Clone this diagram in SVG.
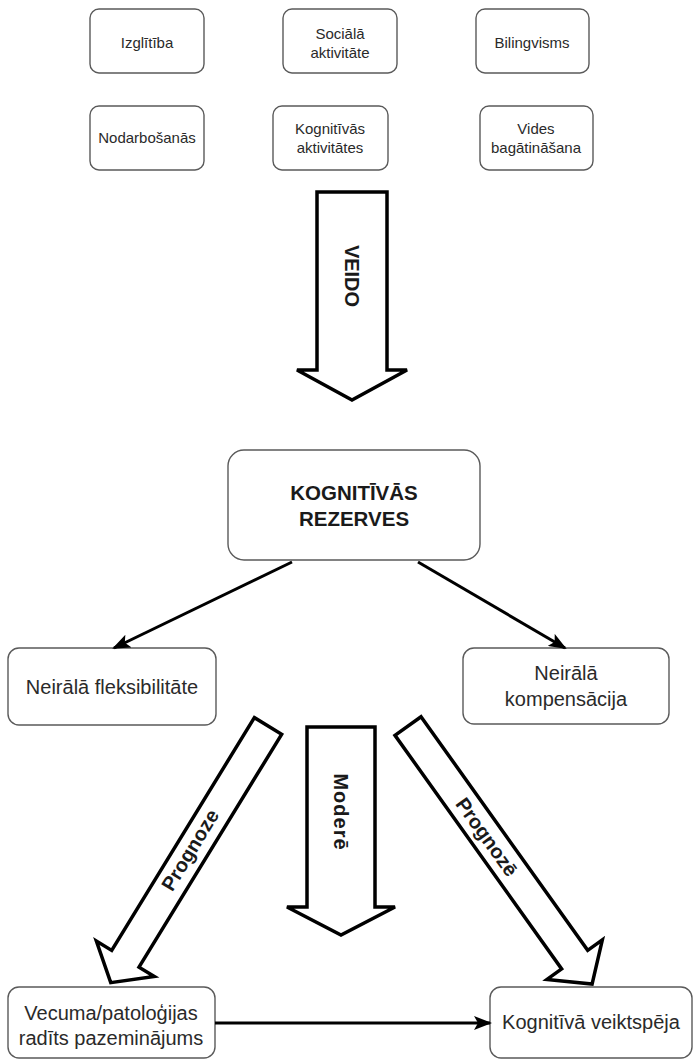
<svg xmlns="http://www.w3.org/2000/svg" width="693" height="1060" viewBox="0 0 693 1060">
<style>
.box{fill:#fff;stroke:#5a5a5a;stroke-width:1.4}
.t{font-family:"Liberation Sans",Arial,sans-serif;fill:#2a2a2a;text-anchor:middle;dominant-baseline:central}
.s{font-size:15px}
.m{font-size:20px}
.b{font-weight:bold;font-size:20px;fill:#1a1a1a}
.big{fill:#fff;stroke:#000;stroke-width:3.5;stroke-linejoin:miter}
.con{fill:none;stroke:#000;stroke-width:3}
</style>
<defs>
<marker id="ah" viewBox="0 0 18 14" refX="16" refY="7" markerWidth="18" markerHeight="14" markerUnits="userSpaceOnUse" orient="auto">
<path d="M0,0 L18,7 L0,14 L4,7 z" fill="#000"/>
</marker>
</defs>
<rect width="693" height="1060" fill="#fff"/>

<g id="izglitiba"><rect class="box" x="90" y="9" width="114" height="64" rx="9"/><text class="t s" x="147" y="42">Izglītība</text></g>
<g id="sociala"><rect class="box" x="283" y="9" width="114" height="64" rx="9"/><text class="t s" x="340" y="33">Sociālā</text><text class="t s" x="340" y="52">aktivitāte</text></g>
<g id="bilingvisms"><rect class="box" x="476" y="9" width="113" height="64" rx="9"/><text class="t s" x="532" y="42">Bilingvisms</text></g>
<g id="nodarbosanas"><rect class="box" x="90" y="106" width="114" height="64" rx="9"/><text class="t s" x="147" y="137">Nodarbošanās</text></g>
<g id="kognitivas-aktivitates"><rect class="box" x="273" y="106" width="115" height="64" rx="9"/><text class="t s" x="330" y="128">Kognitīvās</text><text class="t s" x="330" y="147">aktivitātes</text></g>
<g id="vides"><rect class="box" x="480" y="106" width="113" height="64" rx="9"/><text class="t s" x="536" y="128">Vides</text><text class="t s" x="536" y="147">bagātināšana</text></g>

<g id="veido">
<polygon class="big" points="317,192 387,192 387,370 407,370 352,400 297,370 317,370"/>
<text class="t b" transform="translate(352,276) rotate(90)">VEIDO</text>
</g>

<g id="kognitivas-rezerves"><rect class="box" x="228" y="450" width="252" height="110" rx="16"/><text class="t b" x="354" y="492" style="font-size:20.5px">KOGNITĪVĀS</text><text class="t b" x="354" y="518" style="font-size:20.5px">REZERVES</text></g>

<g id="fleksibilitate"><rect class="box" x="8" y="648" width="208" height="77" rx="11"/><text class="t m" x="112" y="687">Neirālā fleksibilitāte</text></g>
<g id="kompensacija"><rect class="box" x="463" y="648" width="206" height="76" rx="11"/><text class="t m" x="566" y="673">Neirālā</text><text class="t m" x="566" y="699">kompensācija</text></g>

<g id="modere">
<polygon class="big" points="307,727 375,727 375,907 395,907 341,935 287,907 307,907"/>
<text class="t b" transform="translate(341,812) rotate(90)" style="letter-spacing:1px">Moderē</text>
</g>

<g id="prognoze-left">
<polygon class="big" transform="translate(268,726) rotate(121.5)" points="0,-16 273,-16 273,-34 301,0 273,34 273,16 0,16"/>
<text class="t b" transform="translate(190,850) rotate(-58.5)">Prognoze</text>
</g>

<g id="prognoze-right">
<polygon class="big" transform="translate(408,726) rotate(54.5)" points="0,-16 287,-16 287,-34 317,0 287,34 287,16 0,16"/>
<text class="t b" transform="translate(487,837) rotate(54.5)">Prognozē</text>
</g>

<g id="vecuma"><rect class="box" x="8" y="987" width="207" height="71" rx="11"/><text class="t m" x="111" y="1013">Vecuma/patoloģijas</text><text class="t m" x="111" y="1038">radīts pazeminājums</text></g>
<g id="veiktspeja"><rect class="box" x="490" y="987" width="202" height="71" rx="11"/><text class="t m" x="591" y="1022">Kognitīvā veiktspēja</text></g>

<g id="connectors">
<line class="con" x1="292" y1="562" x2="114" y2="648" marker-end="url(#ah)"/>
<line class="con" x1="418" y1="562" x2="565" y2="648" marker-end="url(#ah)"/>
<line class="con" x1="215" y1="1023" x2="490" y2="1023" marker-end="url(#ah)"/>
</g>
</svg>
